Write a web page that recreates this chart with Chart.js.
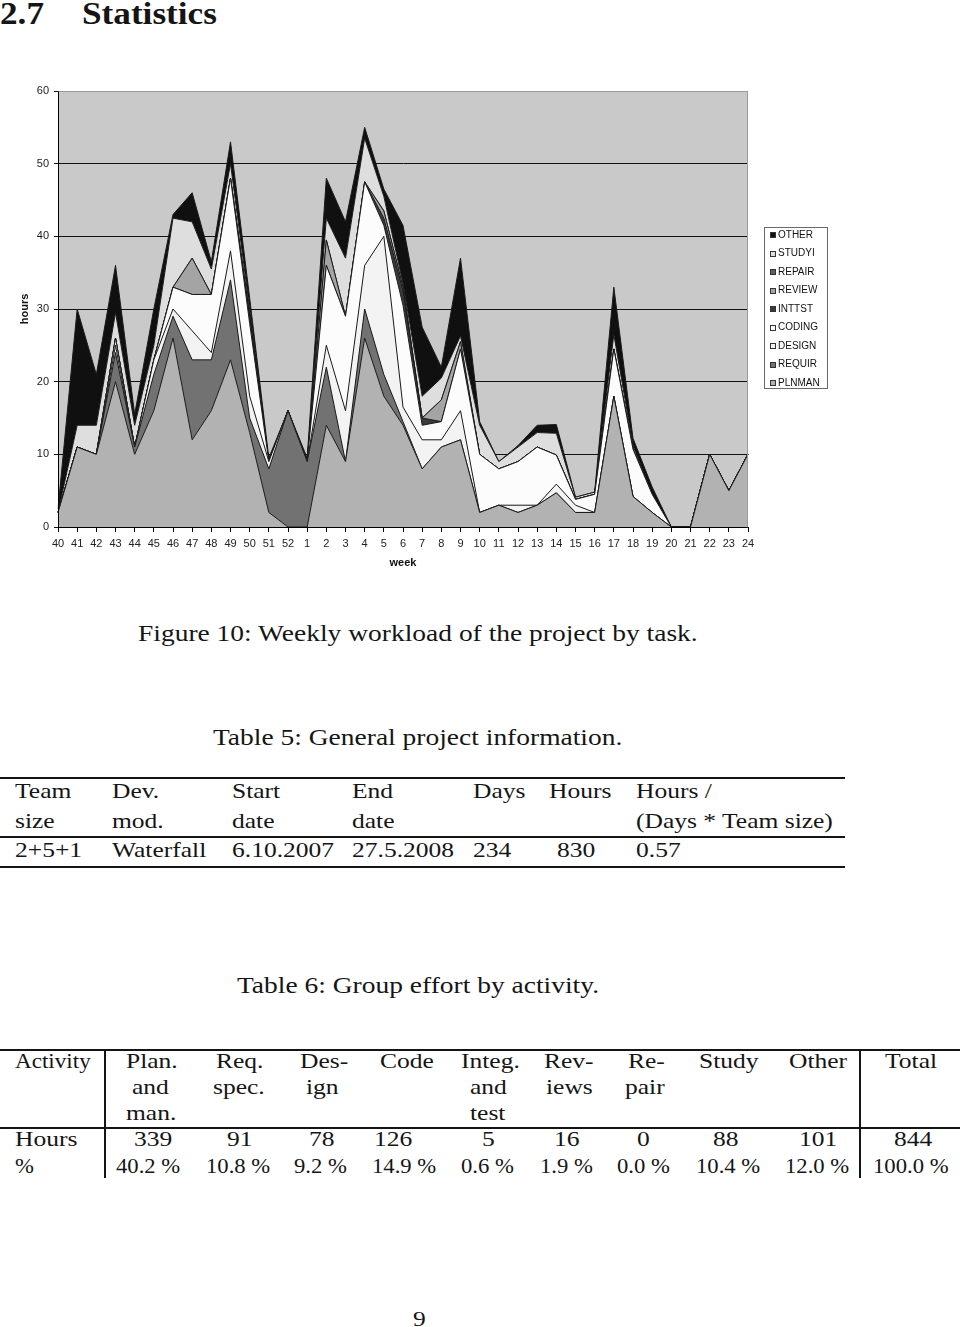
<!DOCTYPE html>
<html>
<head>
<meta charset="utf-8">
<script src="https://cdn.jsdelivr.net/npm/chart.js@4.4.1/dist/chart.umd.min.js"></script>
<style>
  html, body { margin: 0; padding: 0; background: #fff; }
  #page { position: relative; width: 960px; height: 1327px; overflow: hidden; }
  #chart { position: absolute; left: 0; top: 75px; }
  .t {
    position: absolute;
    white-space: nowrap;
    line-height: 1;
    font-family: "Liberation Serif", "Times New Roman", serif;
    color: #151515;
    transform-origin: 0 0;
  }
  .rule { position: absolute; background: #151515; }
</style>
</head>
<body>
<div id="page"><canvas id="chart" width="850" height="510"></canvas></div>
<script>
"use strict";

const weeks = [
  "40", "41", "42", "43", "44", "45", "46", "47", "48", "49", "50", "51", "52",
  "1", "2", "3", "4", "5", "6", "7", "8", "9", "10", "11", "12",
  "13", "14", "15", "16", "17", "18", "19", "20", "21", "22", "23", "24",
];

const taskLabels = [
  "PLNMAN", "REQUIR", "DESIGN", "CODING", "INTTST", "REVIEW", "REPAIR", "STUDYI", "OTHER",
];

// hours per week (bottom layer first)
const plnman = [2, 11, 10, 20, 10, 16, 26, 12, 16, 23, 13, 2, 0, 0, 14, 9, 26, 18, 14, 8, 11, 12, 2, 3, 2, 3, 4.7, 2, 2, 18, 4.2, 2, 0, 0, 10, 5, 10];
const requir = [0, 0, 0, 4, 1, 5, 3, 11, 7, 11, 2, 6, 16, 9, 8, 0, 4, 3, 0.5, 0, 0, 0, 0, 0, 0, 0, 0, 0, 0, 0, 0, 0, 0, 0, 0, 0, 0];
const design = [0, 0, 0, 1, 0, 2, 1, 4, 1, 4, 3, 1, 0, 0, 3, 7, 6, 19, 2, 4, 1, 4, 0, 0, 1, 0, 1.2, 1, 0, 0, 0, 0, 0, 0, 0, 0, 0];
const coding = [0, 0, 0, 1, 0, 0, 3, 5, 8, 10, 10, 0, 0, 0, 11, 13, 11.5, 1.5, 14, 2, 2.5, 8.5, 8, 5, 6, 8, 4, 0.8, 2.5, 6.5, 6.5, 2.5, 0, 0, 0, 0, 0];
const inttst = [0, 0, 0, 0, 0, 0, 0, 0, 0, 0, 1, 0, 0, 0, 0, 0, 0, 1, 2, 1, 0, 0, 0, 0, 0, 0, 0, 0, 0, 0, 0, 0, 0, 0, 0, 0, 0];
const review = [0, 0, 0, 0, 0, 0, 0, 5, 0, 0, 0, 0, 0, 0, 3.5, 0, 0, 1, 0.5, 0, 3, 1, 0, 0, 0, 0, 0, 0, 0, 0, 0, 0, 0, 0, 0, 0, 0];
const repair = [0, 0, 0, 0, 0, 0, 0, 0, 0, 0, 0, 0, 0, 0, 0, 0, 0, 0, 0, 0, 0, 0, 0, 0, 0, 0, 0, 0, 0, 0, 0, 0, 0, 0, 0, 0, 0];
const studyi = [0, 3, 4, 3.5, 3, 2, 9.5, 5, 3.5, 2, 1, 0, 0, 0, 3, 8, 6, 2, 0.5, 3, 3, 0.8, 4, 1, 2, 2, 3, 0.3, 0.3, 2, 0.5, 0, 0, 0, 0, 0, 0];
const other = [0.5, 16, 7, 6.5, 1.5, 5, 0.5, 4, 1, 3, 1.5, 0.5, 0, 0.5, 5.5, 5, 1.5, 1, 8, 9.5, 1.5, 10.7, 0.5, 0, 0.2, 1, 1.2, 0, 0, 6.5, 1, 1, 0, 0, 0, 0, 0];

const series = [plnman, requir, design, coding, inttst, review, repair, studyi, other];
const taskColors = [
  "#b2b2b2", "#727272", "#f3f3f3", "#fcfcfc", "#3a3a3a", "#a4a4a4", "#5e5e5e", "#dedede", "#101010",
];
const plotColor = "#c9c9c9";
const axisFont = "Liberation Sans";

const plotFrame = {
  id: "plotFrame",
  beforeDraw(chart) {
    const { ctx, chartArea: a } = chart;
    ctx.save();
    ctx.fillStyle = plotColor;
    ctx.fillRect(a.left, a.top, a.right - a.left, a.bottom - a.top);
    ctx.restore();
  },
  afterDatasetsDraw(chart) {
    const { ctx, chartArea: a } = chart;
    const l = Math.round(a.left) + 0.5;
    const r = Math.round(a.right) - 0.5;
    const t = Math.round(a.top) + 0.5;
    const b = Math.round(a.bottom) + 0.5;
    ctx.save();
    ctx.lineWidth = 1;
    ctx.strokeStyle = "#9a9a9a";
    ctx.beginPath();
    ctx.moveTo(l, t);
    ctx.lineTo(r, t);
    ctx.lineTo(r, b);
    ctx.stroke();
    ctx.strokeStyle = "#000";
    ctx.beginPath();
    ctx.moveTo(l, t);
    ctx.lineTo(l, b);
    ctx.lineTo(r, b);
    ctx.stroke();
    ctx.restore();
  },
  afterDraw(chart) {
    // boxed legend, top entry = top layer
    const { ctx } = chart;
    const sets = chart.data.datasets;
    ctx.save();
    ctx.fillStyle = "#fff";
    ctx.fillRect(764, 152, 64, 162);
    ctx.strokeStyle = "#6a6a6a";
    ctx.lineWidth = 1;
    ctx.strokeRect(764.5, 152.5, 63, 161);
    ctx.font = `10px "${axisFont}"`;
    ctx.textBaseline = "middle";
    for (let k = 0; k < sets.length; k++) {
      const ds = sets[sets.length - 1 - k];
      const y = 160 + k * 18.5;
      ctx.fillStyle = ds.backgroundColor;
      ctx.fillRect(770, Math.round(y) - 3, 6, 6);
      ctx.strokeStyle = "#333";
      ctx.strokeRect(770.5, Math.round(y) - 2.5, 5, 5);
      ctx.fillStyle = "#111";
      ctx.fillText(ds.label, 778, y);
    }
    ctx.restore();
  },
};

const chart = new Chart(document.getElementById("chart"), {
  type: "line",
  data: {
    labels: weeks,
    datasets: series.map((data, i) => ({
      label: taskLabels[i],
      data,
      fill: i === 0 ? "origin" : "-1",
      backgroundColor: taskColors[i],
      borderColor: "#1a1a1a",
      borderWidth: 1,
      pointRadius: 0,
      pointHitRadius: 0,
      tension: 0,
    })),
  },
  options: {
    responsive: false,
    animation: false,
    events: [],
    layout: { padding: { top: 16, right: 102, left: 0, bottom: 0 } },
    plugins: { legend: { display: false }, tooltip: { enabled: false } },
    scales: {
      x: {
        offset: false,
        grid: { drawOnChartArea: false, tickLength: 5, color: "#000" },
        border: { color: "#000" },
        ticks: {
          autoSkip: false,
          maxRotation: 0,
          padding: 5,
          color: "#222",
          font: { family: axisFont, size: 11 },
        },
        title: {
          display: true,
          text: "week",
          color: "#111",
          font: { family: axisFont, size: 11, weight: "bold" },
          padding: { top: 0, bottom: 15 },
        },
        afterFit: (s) => { s.height = 58; },
      },
      y: {
        stacked: true,
        min: 0,
        max: 60,
        grid: {
          color: (c) => (c.tick && c.tick.value === 60 ? "#9a9a9a" : "#111"),
          tickColor: "#111",
          tickLength: 4,
        },
        border: { color: "#000" },
        ticks: {
          stepSize: 10,
          padding: 5,
          color: "#222",
          font: { family: axisFont, size: 11 },
        },
        title: {
          display: true,
          text: "hours",
          color: "#111",
          font: { family: axisFont, size: 11, weight: "bold" },
          padding: { top: 18, bottom: 0 },
        },
        afterFit: (s) => { s.width = 58; },
      },
    },
  },
  plugins: [plotFrame],
});

// document text around the figure
const page = document.getElementById("page");

const put = (text, x, baseline, size, sx, bold) => {
  const el = document.createElement("div");
  el.className = "t";
  el.textContent = text;
  el.style.left = `${x}px`;
  el.style.top = `${baseline - 0.8375 * size}px`;
  el.style.fontSize = `${size}px`;
  el.style.transform = `scaleX(${sx})`;
  if (bold) el.style.fontWeight = "bold";
  page.appendChild(el);
};

const rule = (x, y, w, h) => {
  const el = document.createElement("div");
  el.className = "rule";
  el.style.left = `${x}px`;
  el.style.top = `${y}px`;
  el.style.width = `${w}px`;
  el.style.height = `${h}px`;
  page.appendChild(el);
};

put("2.7", 0, 24, 32, 1.1, true);
put("Statistics", 82, 24, 32, 1.1, true);

put("Figure 10: Weekly workload of the project by task.", 138, 641, 24, 1.145);
put("Table 5: General project information.", 213, 745, 24, 1.145);
put("Table 6: Group effort by activity.", 237, 993, 24, 1.145);

// table 5
const t5 = [
  ["Team", 15, 798], ["Dev.", 112, 798], ["Start", 231.5, 798], ["End", 352, 798],
  ["Days", 473.4, 798], ["Hours", 549.3, 798], ["Hours /", 635.6, 798],
  ["size", 15, 828], ["mod.", 112, 828], ["date", 231.5, 828], ["date", 352, 828],
  ["(Days * Team size)", 635.6, 828],
  ["2+5+1", 15, 857], ["Waterfall", 112, 857], ["6.10.2007", 231.5, 857],
  ["27.5.2008", 352, 857], ["234", 473.4, 857], ["830", 557, 857], ["0.57", 635.6, 857],
];
t5.forEach(([s, x, b]) => put(s, x, b, 22, 1.16));
rule(0, 777, 845, 1.5);
rule(0, 836, 845, 1.5);
rule(0, 866, 845, 1.5);

// table 6
const t6 = [
  ["Activity", 15.3, 1068, 1.05], ["Plan.", 125.5, 1068], ["and", 131.7, 1094], ["man.", 125.5, 1120],
  ["Req.", 215.6, 1068], ["spec.", 213, 1094], ["Des-", 300, 1068], ["ign", 306, 1094],
  ["Code", 379.7, 1068], ["Integ.", 460.5, 1068], ["and", 470, 1094], ["test", 470, 1120],
  ["Rev-", 543.8, 1068], ["iews", 546, 1094], ["Re-", 627.7, 1068], ["pair", 624.6, 1094],
  ["Study", 699.3, 1068], ["Other", 788.7, 1068], ["Total", 884.9, 1068],
  ["Hours", 15.3, 1146], ["339", 133.5, 1146], ["91", 226.6, 1146], ["78", 309.2, 1146],
  ["126", 373.5, 1146], ["5", 482, 1146], ["16", 554.2, 1146], ["0", 636.9, 1146],
  ["88", 713.4, 1146], ["101", 799.1, 1146], ["844", 894, 1146],
  ["%", 15.3, 1173, 1.03], ["40.2 %", 116.3, 1173, 1.03], ["10.8 %", 206.4, 1173, 1.03],
  ["9.2 %", 294, 1173, 1.03], ["14.9 %", 372.3, 1173, 1.03], ["0.6 %", 460.5, 1173, 1.03],
  ["1.9 %", 540, 1173, 1.03], ["0.0 %", 617.3, 1173, 1.03], ["10.4 %", 696.3, 1173, 1.03],
  ["12.0 %", 785, 1173, 1.03], ["100.0 %", 872.6, 1173, 1.03],
];
t6.forEach(([s, x, b, sx]) => put(s, x, b, 22, sx || 1.16));
rule(0, 1049, 960, 1.5);
rule(0, 1127, 960, 1.5);
rule(104, 1049, 1.5, 129);
rule(859, 1049, 1.5, 129);

put("9", 413, 1326, 22, 1.16);
</script>
</body>
</html>
